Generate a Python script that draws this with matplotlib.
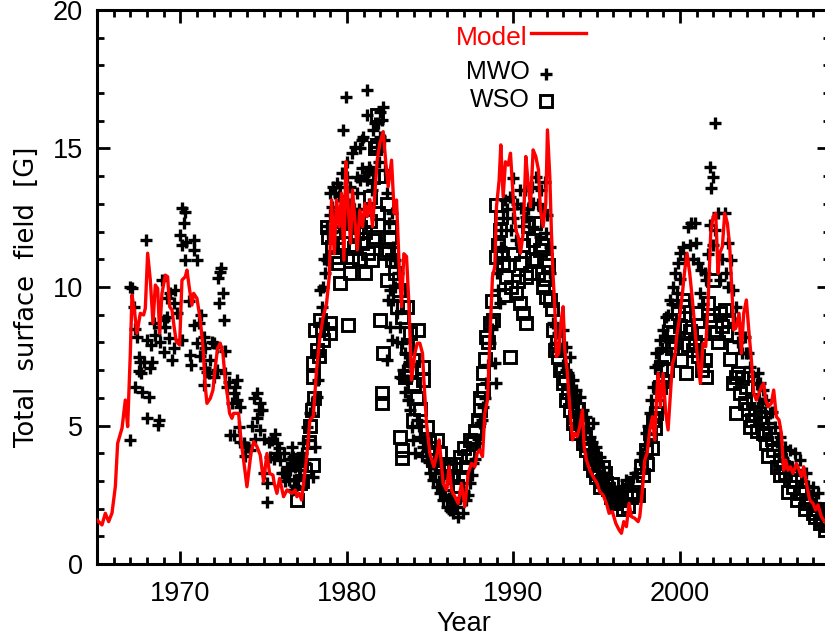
import matplotlib
matplotlib.use("Agg")
import matplotlib.pyplot as plt
from matplotlib.ticker import MultipleLocator
from matplotlib.lines import Line2D

plt.rcParams['font.family'] = ['Liberation Sans', 'DejaVu Sans']

# Flux-transport model: total surface field [G]
model_year = [
    1965.0, 1965.3, 1965.5, 1965.7, 1965.9, 1966.1, 1966.24, 1966.5, 1966.7, 1966.84,
    1967.0, 1967.1, 1967.24, 1967.4, 1967.6, 1967.8, 1967.9, 1968.04, 1968.2, 1968.36,
    1968.5, 1968.64, 1968.76, 1968.9, 1969.1, 1969.24, 1969.36, 1969.5, 1969.64, 1969.76,
    1969.96, 1970.1, 1970.3, 1970.4, 1970.56, 1970.7, 1970.8, 1971.0, 1971.2, 1971.36,
    1971.5, 1971.6, 1971.8, 1971.96, 1972.1, 1972.24, 1972.4, 1972.56, 1972.7, 1972.84,
    1972.96, 1973.1, 1973.2, 1973.36, 1973.5, 1973.64, 1973.8, 1974.0, 1974.24, 1974.4,
    1974.6, 1974.8, 1975.0, 1975.2, 1975.36, 1975.56, 1975.64, 1975.8, 1975.96,
    1976.2, 1976.4, 1976.7, 1976.9, 1977.0, 1977.14, 1977.28, 1977.42, 1977.58, 1977.78,
    1977.98, 1978.18, 1978.38, 1978.58, 1978.78, 1978.94, 1979.08, 1979.24, 1979.38, 1979.54,
    1979.68, 1979.82, 1979.94, 1980.08, 1980.22, 1980.34, 1980.48, 1980.62, 1980.78, 1980.94,
    1981.08, 1981.22, 1981.38, 1981.54, 1981.68, 1981.82, 1981.98, 1982.18, 1982.34, 1982.48,
    1982.68, 1982.84, 1982.98, 1983.14, 1983.28, 1983.42, 1983.58, 1983.72, 1983.88, 1984.08,
    1984.22, 1984.38, 1984.54, 1984.62, 1984.78, 1984.98, 1985.22, 1985.42, 1985.54,
    1985.78, 1985.98, 1986.14, 1986.28, 1986.48, 1986.68, 1986.88, 1987.08, 1987.28, 1987.48,
    1987.68, 1987.82, 1987.98, 1988.14, 1988.28, 1988.44, 1988.58, 1988.74, 1988.88, 1988.98,
    1989.14, 1989.24, 1989.38, 1989.52, 1989.68, 1989.82, 1989.98, 1990.14, 1990.28, 1990.42,
    1990.58, 1990.74, 1990.88, 1991.02, 1991.18, 1991.34, 1991.5, 1991.62, 1991.78, 1991.94,
    1992.04, 1992.18, 1992.28, 1992.38, 1992.48, 1992.58, 1992.72, 1992.84, 1992.98, 1993.08,
    1993.22, 1993.38, 1993.54, 1993.68, 1993.82, 1993.98, 1994.14, 1994.24, 1994.38, 1994.58,
    1994.78, 1995.02,
    1995.18, 1995.38, 1995.58, 1995.74, 1995.94, 1996.14, 1996.34, 1996.48, 1996.62, 1996.78,
    1996.94, 1997.08, 1997.28, 1997.48, 1997.58, 1997.74, 1997.88, 1998.02, 1998.18, 1998.34,
    1998.48, 1998.58, 1998.68, 1998.82, 1998.98, 1999.14, 1999.28, 1999.42, 1999.54, 1999.68,
    1999.82, 1999.98, 2000.14, 2000.28, 2000.42, 2000.58, 2000.74, 2000.88, 2001.02, 2001.22,
    2001.38, 2001.54, 2001.68, 2001.84, 2001.98, 2002.14, 2002.28, 2002.38, 2002.54, 2002.68,
    2002.84, 2002.98, 2003.14, 2003.22, 2003.38, 2003.54, 2003.68, 2003.82, 2003.98, 2004.14,
    2004.28, 2004.42, 2004.58, 2004.74, 2004.88, 2005.02, 2005.14, 2005.28, 2005.48, 2005.62,
    2005.78, 2005.94, 2006.08, 2006.22, 2006.34, 2006.48, 2006.62, 2006.78, 2006.98, 2007.14,
    2007.28, 2007.42, 2007.58, 2007.78, 2007.98, 2008.14, 2008.28, 2008.48, 2008.68, 2009.0,
]
model_val = [
    1.59, 1.41, 1.83, 1.53, 1.84, 2.79, 4.36, 4.9, 5.92, 4.96,
    7.6, 9.71, 9.17, 8.33, 9.05, 8.99, 9.23, 11.22, 10.25, 8.69,
    10.07, 9.95, 8.33, 9.77, 10.43, 10.37, 9.29, 9.17, 8.51, 8.03,
    7.91, 10.25, 10.37, 10.61, 9.89, 9.35, 9.77, 9.59, 8.81, 7.85,
    6.40, 5.8, 5.98, 6.28, 7.12, 7.79, 7.97, 7.6, 6.64, 6.04,
    5.44, 5.26, 5.44, 5.44, 5.44, 4.48, 3.75, 2.79, 3.99, 4.42,
    4.24, 3.93, 2.97, 3.99, 3.27, 3.21, 2.91, 2.55, 3.09,
    2.43, 2.67, 2.55, 2.67, 2.43, 2.55, 2.31, 3.03, 3.82, 5.2,
    5.32, 7.0, 8.2, 8.93, 9.41, 10.37, 13.14, 11.2, 13.14, 12.18,
    13.38, 10.97, 14.52, 12.9, 11.58, 13.5, 12.42, 11.34, 12.78, 12.18,
    13.02, 12.54, 13.14, 12.18, 13.38, 14.58, 15.19, 15.61, 14.46, 13.62,
    14.58, 12.66, 13.14, 10.73, 9.29, 11.2, 11.1, 9.41, 6.64, 7.6,
    7.97, 7.97, 7.6, 6.64, 5.08, 4.0, 3.51, 4.0, 4.48,
    2.91, 2.67, 3.51, 2.67, 2.43, 2.19, 2.91, 2.07, 3.27, 3.63,
    3.51, 4.0, 4.12, 3.88, 5.44, 5.92, 8.09, 10.37, 10.73, 12.9,
    13.86, 15.13, 13.26, 14.52, 14.4, 14.83, 13.26, 12.06, 11.82, 11.22,
    11.94, 14.71, 13.74, 12.9, 14.95, 14.71, 14.23, 12.78, 12.18, 13.02,
    15.67, 13.98, 11.94, 10.37, 9.29, 7.49, 7.61, 8.69, 9.29, 7.73,
    7.0, 5.68, 4.48, 4.72, 4.6, 4.96, 5.56, 4.24, 3.75, 3.39,
    3.15, 2.91,
    2.61, 2.49, 2.19, 1.83, 1.89, 1.47, 1.23, 1.11, 1.53, 1.35,
    2.19, 1.71, 1.65, 1.53, 1.71, 2.67, 3.75, 3.99, 4.84, 5.32,
    4.48, 5.92, 6.88, 5.68, 6.88, 5.44, 4.84, 6.16, 7.24, 7.49,
    8.33, 8.93, 9.77, 10.61, 11.22, 10.49, 9.53, 8.57, 7.61, 6.52,
    7.97, 7.85, 9.41, 11.94, 12.54, 12.66, 10.49, 11.22, 11.46, 12.66,
    12.3, 11.46, 9.53, 8.45, 8.57, 9.05, 7.61, 9.05, 9.53, 8.33,
    7.37, 6.16, 5.92, 6.16, 6.4, 6.52, 5.92, 5.68, 5.8, 6.28,
    5.32, 5.2, 4.72, 3.39, 3.75, 3.39, 3.51, 3.27, 3.63, 3.39,
    3.15, 3.51, 2.91, 2.31, 2.19, 1.95, 2.13, 1.71, 1.53, 1.3,
]

# Mount Wilson Observatory measurements
mwo_year = [
    1967.0, 1967.1, 1967.0, 1967.2, 1967.4, 1967.3, 1967.5, 1967.6, 1967.5, 1967.64,
    1967.8, 1967.96, 1968.0, 1968.1, 1968.0, 1968.2, 1968.24, 1968.4, 1968.5, 1968.64,
    1968.7, 1968.7, 1968.9, 1969.0, 1969.1, 1969.2, 1969.3, 1969.4, 1969.5, 1969.6,
    1969.7, 1969.8, 1970.0, 1970.1, 1970.3, 1970.2, 1970.1, 1970.36, 1970.84, 1970.8,
    1971.0, 1970.3, 1970.1, 1970.6, 1970.64, 1970.8, 1971.0, 1971.24, 1971.1, 1971.4,
    1971.4, 1971.5, 1971.6, 1971.7, 1971.8, 1971.9, 1972.0, 1972.0, 1972.2, 1972.24,
    1972.44, 1972.36, 1972.56, 1972.3, 1972.6, 1972.7, 1972.8, 1972.9, 1973.4, 1973.2,
    1973.4, 1973.6, 1973.5, 1973.2, 1973.0, 1973.8, 1974.0, 1974.2, 1974.4, 1974.6,
    1974.7, 1974.6, 1974.8, 1974.9, 1975.0, 1975.2, 1975.2, 1975.4, 1975.5, 1975.8,
    1975.9, 1975.8, 1976.0, 1976.2, 1976.2, 1976.4, 1976.5, 1976.6, 1976.8, 1976.9,
    1976.7, 1976.48, 1976.68, 1976.78, 1976.88, 1977.08, 1977.18, 1977.38, 1977.48, 1977.58,
    1977.68, 1977.78, 1977.88, 1977.98, 1978.08, 1978.18, 1978.28, 1978.18, 1978.38, 1978.48,
    1978.38, 1978.58, 1978.68, 1978.78, 1978.88, 1978.98, 1979.18, 1979.38, 1979.68, 1979.78,
    1979.94, 1979.98, 1980.18, 1980.28, 1980.48, 1980.58, 1980.78, 1980.88, 1980.98, 1981.22,
    1981.18, 1981.34, 1981.58, 1981.68, 1981.88, 1982.18, 1982.08, 1981.98, 1981.78, 1981.38,
    1981.18, 1980.78, 1980.58, 1979.58, 1979.28, 1979.08, 1979.98, 1979.58, 1982.38, 1982.28,
    1982.68, 1982.78, 1982.88, 1983.08, 1982.58, 1982.48, 1982.78, 1982.98, 1982.58, 1982.68,
    1982.38, 1983.18, 1983.28, 1983.48, 1983.38, 1983.18, 1983.58, 1983.68, 1983.78, 1983.88,
    1983.98, 1984.18, 1984.38, 1984.58, 1984.78, 1984.98, 1985.18, 1985.38, 1985.58, 1985.78,
    1985.98, 1986.18, 1986.38, 1986.58, 1986.68, 1986.98, 1987.18, 1987.38, 1987.58, 1987.78,
    1987.98, 1988.18, 1988.38, 1988.58, 1988.88, 1988.98, 1989.08, 1989.18, 1989.28, 1989.28,
    1989.48, 1989.78, 1989.98, 1990.38, 1990.48, 1990.68, 1990.98, 1991.18, 1991.38, 1991.68,
    1991.78, 1991.98, 1992.18, 1990.78, 1991.18, 1991.58, 1989.88, 1990.18, 1992.38, 1992.48,
    1992.68, 1992.98, 1993.18, 1993.38, 1993.18, 1993.58, 1993.78, 1993.98, 1994.18, 1994.38,
    1994.78, 1994.58, 1994.98, 1995.18, 1995.38, 1995.58, 1995.78, 1995.98, 1996.38, 1996.78,
    1997.18, 1997.58, 1997.98, 1998.18, 1998.38, 1998.28, 1998.48, 1998.58, 1998.78, 1998.98,
    1999.18, 1999.38, 1999.58, 1999.68, 1999.88, 1999.98, 2000.18, 2000.48, 2000.68, 2000.88,
    2000.98, 2001.08, 2001.28, 2001.48, 2001.58, 2001.78, 2001.98, 2001.88, 2002.08, 2001.78,
    2002.08, 2002.28, 2002.68, 2002.88, 2003.08, 2002.78, 2002.38, 2003.18, 2003.38, 2003.58,
    2003.98, 2004.18, 2004.68, 2004.78, 2004.98, 2005.18, 2005.38, 2005.68, 2005.98, 2006.28,
    2006.58, 2006.88, 2007.18, 2007.58, 2007.98, 2008.28, 2008.58,
    1967.3, 1967.7, 1968.3, 1968.8, 1969.0, 1969.2, 1969.6, 1970.5, 1971.2, 1971.5,
    1972.2, 1972.7, 1973.1, 1973.3, 1973.6, 1973.9, 1974.3, 1974.5, 1974.8, 1975.0,
    1975.3, 1975.6, 1975.7, 1976.1, 1976.3, 1976.6, 1976.9, 1977.2, 1977.3, 1978.6,
    1978.8, 1979.0, 1979.1, 1979.3, 1979.5, 1979.7, 1979.9, 1980.0, 1980.1, 1980.4,
    1980.7, 1980.9, 1981.0, 1981.3, 1981.5, 1981.9, 1982.0, 1982.2, 1982.5, 1982.6,
    1982.9, 1983.0, 1983.3, 1983.5, 1983.7, 1984.1, 1984.3, 1984.5, 1984.7, 1984.9,
    1985.1, 1985.3, 1985.5, 1985.7, 1985.9, 1986.1, 1986.3, 1986.5, 1986.8, 1987.0,
    1987.3, 1987.5, 1987.7, 1987.9, 1988.1, 1988.3, 1988.5, 1988.7, 1989.0, 1989.4,
    1989.6, 1990.0, 1990.2, 1990.6, 1990.9, 1991.1, 1991.5, 1991.9, 1992.0, 1992.2,
    1992.5, 1992.8, 1993.0, 1993.3, 1993.5, 1993.7, 1993.9, 1994.1, 1994.3, 1994.5,
    1994.7, 1994.9, 1995.1, 1995.3, 1995.5, 1995.7, 1995.9, 1996.1, 1996.5, 1996.9,
    1997.3, 1997.7, 1997.9, 1998.1, 1998.7, 1998.9, 1999.1, 1999.3, 1999.5, 1999.8,
    2000.0, 2000.3, 2000.6, 2000.8, 2001.2, 2001.4, 2001.7, 2002.0, 2002.5, 2002.9,
    2003.3, 2003.5, 2003.7, 2003.9, 2004.1, 2004.4, 2004.6, 2004.9, 2005.1, 2005.3,
    2005.5, 2005.8, 2006.0, 2006.2, 2006.4, 2006.7, 2007.0, 2007.3, 2007.7, 2007.8,
    2008.1, 2008.4, 2008.7,
]
mwo_val = [
    10.0, 9.95, 4.48, 9.29, 8.2, 6.4, 7.48, 7.3, 6.95, 6.9,
    7.3, 11.7, 8.09, 6.04, 5.26, 7.06, 7.9, 8.69, 8.27, 5.02,
    5.2, 8.57, 10.25, 7.67, 8.57, 9.59, 8.15, 9.77, 7.36, 9.41,
    9.89, 9.05, 11.88, 12.84, 12.72, 12.3, 11.52, 11.64, 11.7, 11.34,
    10.97, 10.97, 8.09, 7.55, 7.18, 8.63, 7.97, 8.99, 8.69, 8.2,
    6.46, 7.06, 6.94, 6.88, 7.36, 8.03, 6.76, 7.97, 7.85, 10.31,
    10.67, 10.55, 9.77, 9.41, 8.81, 6.88, 6.4, 6.58, 6.64, 6.16,
    5.92, 5.68, 4.96, 4.66, 4.66, 4.36, 4.24, 4.12, 5.98, 6.16,
    5.56, 5.26, 4.84, 5.56, 3.27, 2.91, 2.25, 3.87, 4.48, 4.36,
    4.18, 3.99, 3.75, 3.99, 3.27, 3.51, 3.03, 3.39, 3.03, 3.63,
    2.67, 3.39, 4.24, 3.87, 3.51, 3.03, 3.75, 4.36, 3.63, 4.96,
    4.48, 5.44, 5.8, 3.15, 4.24, 6.04, 6.64, 7.6, 8.69, 9.29,
    9.89, 10.01, 10.49, 10.97, 11.94, 13.38, 13.62, 13.74, 14.1, 15.67,
    16.87, 13.98, 13.62, 14.82, 15.07, 13.98, 15.01, 15.31, 15.43, 17.11,
    16.21, 14.35, 15.67, 15.91, 15.91, 16.51, 16.03, 15.43, 15.07, 14.22,
    13.86, 13.86, 13.38, 13.62, 13.38, 12.9, 13.02, 12.18, 13.38, 14.22,
    12.66, 11.46, 10.97, 10.49, 9.89, 9.53, 9.53, 9.05, 8.57, 8.09,
    7.36, 8.57, 7.97, 7.6, 7.0, 6.76, 6.64, 5.92, 5.56, 4.96,
    4.48, 5.2, 4.6, 4.24, 3.75, 3.27, 3.03, 2.79, 2.55, 2.31,
    2.07, 1.95, 1.83, 2.07, 1.71, 1.83, 2.31, 2.91, 3.63, 4.36,
    5.08, 5.68, 6.52, 7.97, 7.24, 6.52, 9.89, 9.41, 11.46, 12.06,
    13.14, 13.26, 13.92, 13.5, 12.84, 13.5, 13.56, 13.02, 13.98, 13.5,
    12.78, 11.94, 11.46, 12.54, 12.18, 11.82, 12.06, 11.7, 8.69, 7.97,
    8.33, 8.45, 7.85, 7.49, 7.0, 6.64, 6.28, 6.04, 5.56, 5.32,
    5.08, 4.6, 4.24, 3.87, 3.51, 3.15, 2.67, 2.79, 2.55, 3.03,
    3.15, 3.75, 4.72, 5.44, 6.4, 5.92, 7.12, 7.61, 8.09, 8.45,
    8.93, 9.53, 10.01, 10.49, 10.85, 11.22, 11.46, 12.18, 12.3, 12.3,
    11.58, 10.85, 10.61, 10.49, 10.25, 14.34, 13.98, 13.56, 15.91, 12.24,
    12.06, 12.66, 12.66, 11.58, 10.97, 10.49, 10.25, 9.89, 9.29, 8.33,
    7.61, 7.12, 6.88, 6.52, 6.28, 5.92, 5.44, 4.96, 4.6, 4.24,
    4.12, 3.99, 3.75, 3.27, 2.79, 2.55, 1.83,
    8.5, 6.2, 7.3, 8.0, 8.8, 8.9, 7.8, 9.5, 7.5, 7.8,
    7.0, 7.7, 5.8, 6.4, 4.4, 3.9, 5.0, 4.5, 5.8, 4.5,
    4.4, 3.8, 4.7, 3.3, 3.0, 3.8, 2.8, 3.4, 4.0, 11.0,
    12.2, 12.6, 12.0, 12.6, 13.3, 12.8, 12.5, 14.5, 13.0, 12.8,
    12.8, 14.3, 14.0, 13.0, 13.5, 14.5, 16.3, 15.3, 12.3, 11.0,
    10.0, 8.0, 6.7, 6.2, 7.3, 4.0, 5.0, 3.9, 4.4, 3.7,
    3.6, 3.3, 3.0, 2.8, 2.5, 2.4, 2.3, 2.2, 2.4, 2.6,
    2.5, 3.2, 3.8, 4.5, 5.2, 6.0, 7.2, 8.5, 10.5, 12.5,
    12.8, 12.5, 13.0, 12.2, 12.8, 13.6, 13.0, 13.8, 12.6, 10.5,
    8.6, 7.7, 7.2, 6.9, 6.2, 5.8, 5.4, 5.2, 4.8, 4.9,
    4.4, 3.8, 3.5, 3.2, 2.9, 2.9, 2.6, 2.5, 2.8, 2.9,
    3.3, 4.0, 4.3, 5.0, 7.2, 7.8, 8.2, 9.0, 9.4, 9.8,
    10.3, 11.0, 11.5, 11.0, 9.8, 9.4, 11.2, 11.5, 11.0, 10.0,
    8.7, 8.0, 7.6, 8.2, 7.6, 6.8, 6.5, 5.8, 5.5, 5.1,
    5.5, 4.4, 4.1, 3.8, 3.7, 3.5, 3.4, 3.0, 2.8, 2.5,
    2.2, 2.0, 1.6,
]

# Wilcox Solar Observatory measurements
wso_year = [
    1976.98, 1976.78, 1977.08, 1977.18, 1977.98, 1977.88, 1977.98, 1977.98, 1978.18, 1978.08,
    1978.38, 1978.58, 1978.98, 1978.98, 1978.78, 1978.88, 1979.08, 1979.28, 1979.48, 1979.58,
    1979.78, 1979.98, 1980.08, 1980.18, 1980.28, 1980.58, 1980.78, 1981.08, 1981.28, 1981.48,
    1981.58, 1981.38, 1981.58, 1981.68, 1981.78, 1981.78, 1981.88, 1981.98, 1982.18, 1982.08,
    1982.08, 1982.28, 1982.48, 1982.58, 1982.68, 1982.38, 1982.98, 1983.38, 1983.58, 1983.78,
    1984.28, 1983.18, 1983.28, 1983.28, 1983.48, 1983.98, 1984.58, 1984.58, 1983.98, 1984.78,
    1985.38, 1985.58, 1985.18, 1985.98, 1986.38,
    1986.78, 1986.98, 1987.18, 1987.38, 1987.58, 1987.88, 1987.98, 1988.18, 1988.18, 1988.38,
    1988.58, 1988.78, 1988.98, 1988.98, 1989.18, 1989.28, 1989.38, 1989.78, 1989.58, 1989.88,
    1990.18, 1990.38, 1990.58, 1990.78, 1990.48, 1990.78, 1990.98, 1991.18, 1991.38, 1991.58,
    1991.78, 1991.98, 1991.98, 1992.18, 1992.38, 1992.48, 1992.68, 1992.78, 1992.98, 1993.18,
    1993.38, 1993.58, 1993.78, 1993.98, 1994.18, 1994.38, 1994.58, 1994.78, 1994.98, 1995.18,
    1995.38, 1995.58, 1995.88, 1996.18, 1996.48, 1996.78, 1997.08, 1997.38, 1997.68, 1997.98,
    1998.18, 1998.38, 1998.58, 1998.78, 1998.88, 1999.08, 1999.38, 1999.58, 1999.88, 2000.18,
    2000.38, 2000.08, 2000.38, 2000.78, 2000.98, 2001.38, 2001.58, 2001.48, 2001.68, 2001.98,
    2002.38, 2002.18, 2002.68, 2002.78, 2003.18, 2003.38, 2003.18, 2003.58, 2003.98, 2003.38,
    2004.18, 2004.38, 2004.78, 2004.98, 2005.18, 2005.58, 2005.98, 2006.18, 2006.58, 2006.78,
    2007.18, 2007.58, 2007.98, 2008.38, 2008.68,
    1977.3, 1977.5, 1977.7, 1977.8, 1978.0, 1978.3, 1978.5, 1979.2, 1979.4, 1979.6,
    1979.9, 1980.2, 1980.4, 1980.7, 1980.9, 1981.1, 1981.4, 1981.7, 1981.9, 1982.4,
    1982.6, 1982.9, 1983.1, 1983.3, 1983.6, 1983.8, 1984.0, 1984.2, 1984.4, 1984.9,
    1985.1, 1985.3, 1985.7, 1986.0, 1986.2, 1986.5, 1986.6, 1987.0, 1987.3, 1987.7,
    1988.0, 1988.3, 1988.5, 1988.7, 1989.1, 1989.3, 1989.5, 1989.7, 1990.0, 1990.3,
    1990.6, 1990.9, 1991.1, 1991.3, 1991.5, 1991.7, 1991.9, 1992.1, 1992.3, 1992.6,
    1992.9, 1993.1, 1993.3, 1993.5, 1993.7, 1993.9, 1994.1, 1994.3, 1994.5, 1994.7,
    1994.9, 1995.1, 1995.3, 1995.5, 1995.7, 1995.9, 1996.0, 1996.3, 1996.6, 1996.9,
    1997.2, 1997.5, 1997.8, 1998.0, 1998.3, 1998.5, 1998.7, 1999.0, 1999.2, 1999.5,
    1999.7, 2000.0, 2000.3, 2000.5, 2000.6, 2000.9, 2001.1, 2001.3, 2001.8, 2002.0,
    2002.3, 2002.5, 2002.9, 2003.0, 2003.5, 2003.7, 2003.9, 2004.1, 2004.3, 2004.5,
    2004.6, 2004.9, 2005.1, 2005.3, 2005.5, 2005.8, 2006.0, 2006.3, 2006.5, 2006.9,
    2007.0, 2007.3, 2007.5, 2007.8, 2008.1, 2008.2, 2008.5, 2008.8,
]
wso_val = [
    2.31, 3.27, 3.75, 2.91, 3.57, 5.56, 6.76, 7.24, 7.72, 8.45,
    8.81, 8.09, 8.69, 8.33, 12.18, 11.82, 11.46, 11.1, 10.85, 10.13,
    11.58, 11.1, 8.63, 10.49, 11.1, 11.94, 12.18, 10.49, 11.22, 10.97,
    11.7, 13.26, 13.98, 15.01, 16.21, 15.13, 12.66, 8.81, 7.6, 6.16,
    5.8, 11.22, 11.34, 12.18, 10.97, 10.25, 9.29, 9.29, 9.29, 8.33,
    8.45, 4.6, 4.12, 3.82, 6.76, 7.36, 7.12, 6.64, 5.2, 4.96,
    4.48, 4.0, 3.75, 3.39, 3.15,
    3.87, 3.15, 3.51, 4.48, 4.36, 5.2, 5.56, 6.28, 6.88, 8.21,
    8.69, 8.81, 11.1, 12.96, 12.06, 12.54, 10.85, 7.49, 10.37, 10.01,
    9.77, 9.41, 9.05, 8.69, 10.85, 10.37, 10.49, 11.7, 10.97, 11.34,
    10.01, 10.97, 9.65, 9.53, 8.45, 7.73, 7.49, 7.0, 6.52, 5.92,
    5.56, 5.08, 4.72, 5.08, 4.36, 4.12, 3.63, 3.39, 3.15, 2.79,
    3.51, 2.91, 2.43, 2.19, 2.31, 2.55, 2.43, 2.91, 3.51, 4.12,
    4.72, 5.2, 5.44, 6.4, 7.12, 7.49, 8.81, 8.33, 9.05, 9.53,
    8.57, 7.37, 6.88, 7.73, 9.05, 8.33, 6.76, 7.37, 9.41, 10.25,
    9.05, 8.33, 9.17, 8.33, 7.85, 6.76, 6.52, 6.16, 6.4, 5.44,
    4.96, 5.92, 5.32, 4.72, 4.36, 4.12, 3.75, 3.51, 3.03, 2.79,
    2.55, 2.19, 1.83, 1.47, 1.23,
    3.0, 3.4, 4.4, 5.0, 6.0, 7.5, 8.5, 12.0, 11.8, 12.4,
    12.3, 12.5, 11.4, 11.0, 11.6, 12.0, 12.4, 11.8, 14.0, 13.0,
    11.8, 10.5, 9.9, 8.9, 7.8, 7.0, 6.5, 6.0, 5.6, 4.4,
    4.2, 3.5, 3.6, 2.9, 3.5, 3.6, 2.8, 4.2, 3.9, 4.8,
    6.0, 7.4, 8.0, 9.5, 11.5, 11.2, 9.7, 10.8, 11.2, 10.2,
    11.5, 12.2, 11.0, 12.3, 10.5, 11.5, 10.3, 10.8, 9.2, 8.0,
    7.0, 6.7, 6.2, 5.9, 5.3, 5.6, 5.0, 4.6, 4.3, 3.9,
    3.8, 3.3, 3.0, 3.3, 2.7, 2.9, 2.3, 2.5, 2.0, 2.1,
    2.6, 2.5, 3.2, 3.6, 4.2, 4.9, 5.7, 6.6, 7.0, 7.8,
    8.0, 8.6, 9.3, 7.9, 8.4, 8.0, 7.5, 7.0, 8.8, 9.0,
    8.0, 8.6, 8.8, 7.4, 6.9, 6.7, 5.8, 5.6, 5.2, 5.4,
    4.8, 5.1, 4.7, 3.9, 4.5, 3.5, 3.2, 3.3, 2.6, 3.0,
    2.3, 2.6, 2.0, 2.3, 1.7, 2.0, 1.6, 1.4,
]

W, H = 825, 643
fig = plt.figure(figsize=(W / 100, H / 100), dpi=100)
# the right frame sits just past the right edge of the canvas
ax = fig.add_axes([97 / W, 1 - 564 / H, (830 - 97) / W, (564 - 10) / H])

plus_kw = dict(marker='+', color='black', markersize=8, markeredgewidth=2.4)
box_kw = dict(marker='s', markerfacecolor='none', markeredgecolor='black',
              markersize=8, markeredgewidth=2.1)

ax.plot(mwo_year, mwo_val, linestyle='none', zorder=2, **plus_kw)
ax.plot(wso_year, wso_val, linestyle='none', zorder=2, **box_kw)
ax.plot(model_year, model_val, color='red', linewidth=2.4, zorder=3)

ax.set_xlim(1965, 2009)
ax.set_ylim(0, 20)
ax.xaxis.set_major_locator(MultipleLocator(10))
ax.xaxis.set_minor_locator(MultipleLocator(1))
ax.yaxis.set_major_locator(MultipleLocator(5))
ax.yaxis.set_minor_locator(MultipleLocator(1))
ax.tick_params(which='both', direction='in', top=True, right=True,
               width=2.0, labelsize=19.5)
ax.tick_params(axis='x', which='major', pad=12)
ax.tick_params(axis='y', which='major', pad=10)
ax.tick_params(which='major', length=9.5)
ax.tick_params(which='minor', length=5)
for sp in ax.spines.values():
    sp.set_linewidth(2.2)

ax.set_xlabel('Year', fontsize=19.5, labelpad=3)
ax.set_ylabel('Total  surface  field  [G]', fontsize=18.5,
              family=['DejaVu Sans'], va='center')
ax.yaxis.set_label_coords(-0.0955, 0.482)

# hand-placed key
tf = fig.transFigure
fig.text(527 / W, 1 - 38 / H, 'Model', color='red', fontsize=19, ha='right',
         va='center', transform=tf)
fig.add_artist(Line2D([531 / W, 586 / W], [1 - 33 / H, 1 - 33 / H], color='red',
                      linewidth=2.4, transform=tf))
fig.text(530 / W, 1 - 72 / H, 'MWO', color='black', fontsize=18, ha='right',
         va='center', transform=tf)
fig.add_artist(Line2D([546 / W], [1 - 74 / H], transform=tf, **plus_kw))
fig.text(530 / W, 1 - 100 / H, 'WSO', color='black', fontsize=18, ha='right',
         va='center', transform=tf)
fig.add_artist(Line2D([546 / W], [1 - 101 / H], transform=tf, **box_kw))

fig.savefig('out.png', dpi=100)
